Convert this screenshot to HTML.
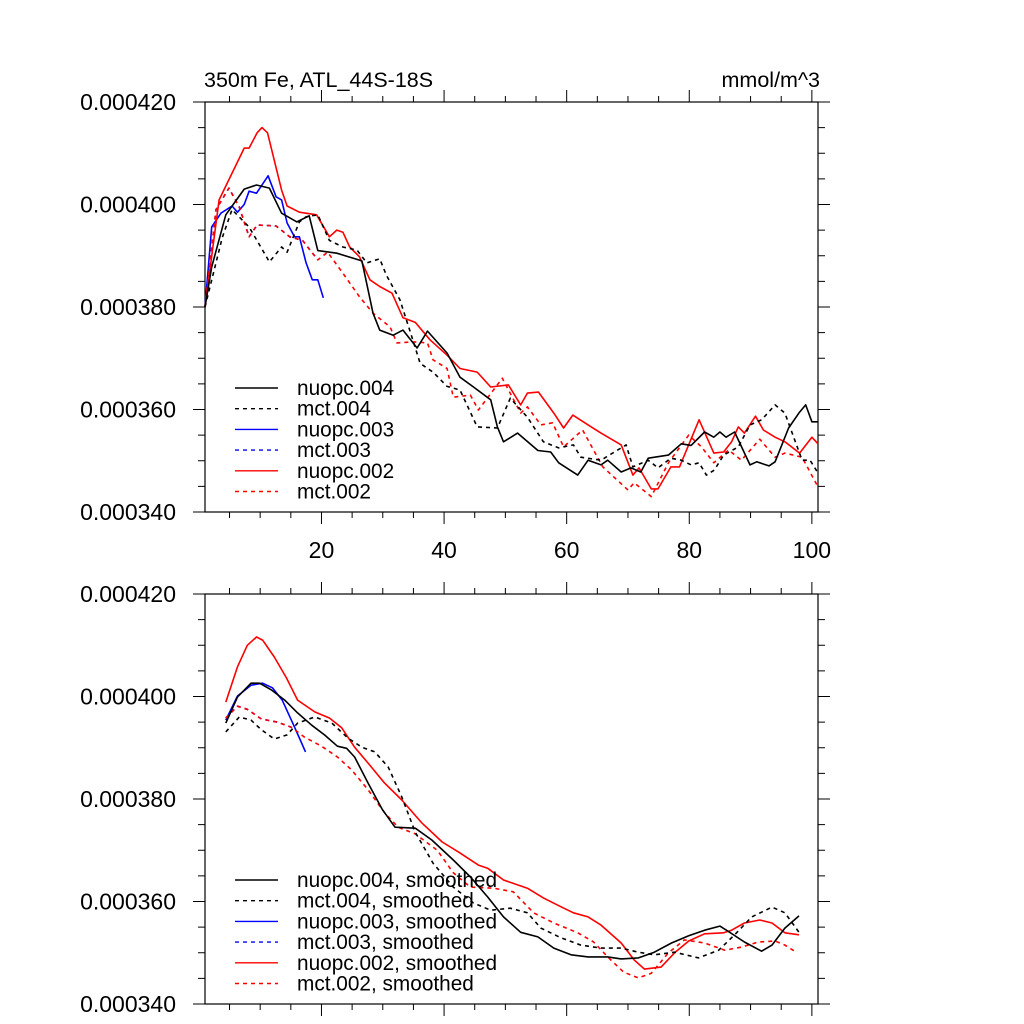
<!DOCTYPE html>
<html><head><meta charset="utf-8">
<style>
html,body{margin:0;padding:0;background:#fff;}
svg{display:block;font-family:"Liberation Sans",Arial,sans-serif;}
</style></head>
<body>
<svg id="chart" width="1024" height="1024" viewBox="0 0 1024 1024" xmlns="http://www.w3.org/2000/svg">
<text x="204" y="87" font-size="21.5">350m Fe, ATL_44S-18S</text>
<text x="820" y="87" font-size="21.5" text-anchor="end">mmol/m^3</text>
</svg>
<script>
// ----- data (values in units of 1e-6 mmol/m^3) -----
const xTickLabels = [20, 40, 60, 80, 100];
const yTickValues = [340, 360, 380, 400, 420];
const yTickLabels = ["0.000340", "0.000360", "0.000380", "0.000400", "0.000420"];

const raw_nuopc004_x = [1,2.1,4.4,7.4,9.4,11.5,13.5,16,18,19.4,22.5,26.6,28.4,29.5,31.7,33.3,35.6,37.3,40.5,42.6,44.8,47.6,48.7,49.7,52,55.3,57.4,58.7,61.8,63.5,65.6,66.7,68.9,70.5,72.1,73.3,76.6,78.7,80.3,82.5,84,85,86,87.4,89.9,91,93,94,96.2,98,99,100,101];
const raw_nuopc004_y = [380,387.8,398,403,403.8,403.2,398.3,396.6,397.8,391,390.5,389,378.8,375.5,374.5,375.5,372,375.3,371,366.3,364.4,361.9,356.6,353.7,355.4,352,351.7,349.6,347.2,350.1,349.2,350.1,347.8,348.6,347.8,350.5,351.1,353.3,353,355.6,354.6,355.6,354.6,355.6,349.2,349.8,349,349.8,356.4,359.5,360.9,357.6,357.6];

const raw_mct004_x = [1,3.8,5.4,8.2,11.5,13.5,14.4,16.4,17.5,19.4,21.3,23.5,25.8,27.4,29.5,30.6,32.8,34.4,36.1,38.2,40.5,42.6,45.4,48.7,50.8,53.6,56.2,58.7,61.1,62.3,65.6,69.7,70.8,73.3,74.9,77,78.7,80.3,81.6,82.8,84.1,85.6,88,89.9,91.8,94,95.6,98.4,99.7,101];
const raw_mct004_y = [380,393.5,399,395.6,388.8,391.7,390.7,396.6,397.6,398,393,391.7,391.1,388.6,389.4,386.2,381.4,375.5,369,367.3,364.5,363.8,356.6,356.4,362.2,358.5,353.7,352.5,353.1,350.7,350.1,353.1,348.8,350.1,348.6,350.5,350.1,349.2,349.6,347.2,348.2,351.1,352.7,357,358,360.9,359.3,350.1,350.1,347.6];

const raw_nuopc003_x = [1,2.1,3.6,5.4,6.3,7.4,8.2,9.4,11.3,12.6,13.5,14.4,15.6,16.4,17.5,18.5,19.4,20.3];
const raw_nuopc003_y = [380,395.6,398.3,399.7,398.5,400,402.6,402.2,405.6,401.5,400.9,396.4,393.7,393.7,388.6,385.3,385.3,381.8];

const raw_mct003_x = [1,2.8,4.9,6.6,8.2,9.5,12.6,14.8,16.9,19.4];
const raw_mct003_y = [380,399,403.2,399.5,393.7,396,395.8,393.7,393,389.2];

const raw_nuopc002_x = [1,3.3,7.4,8.2,9.5,10.3,11.2,13.5,14.4,16.4,19.2,21.3,22.5,23.5,24.6,26.2,27.9,29.5,31.5,33.3,35.3,37.7,40.5,42.6,45.4,47.6,50.5,52.5,53.6,55.4,57.9,59.5,61,63.5,65.6,68.9,70.8,71.8,73.8,74.9,77,78.4,81.6,84,85.6,86.9,88,89,90.8,92.1,94,95.6,98,100,101];
const raw_nuopc002_y = [380,400.9,411,411,414,415,414,402.8,399.7,398.5,398,393.7,395,394.6,391.7,389.8,385.3,384,382.7,377.9,377,373.6,370.6,368,367.3,364.4,364.8,360.9,363.2,363.4,359.3,356.4,358.9,357,355.4,353.1,347.2,348.6,344.5,344.5,348.8,348.8,358,351.5,351.7,353.7,356.6,355.4,358.7,356,354.6,353.7,351.5,354.6,353.3];

const raw_mct002_x = [1,2.8,4.9,6.6,8.2,9.5,12.6,14.8,16.9,19.4,21,23.5,26.2,28.4,31.2,32.3,35,37.3,38.2,40.5,41.5,44.3,45.6,49.5,52.5,53.6,55.8,57.7,59.5,62.6,65.9,70,71,73.8,76.6,79.9,82,84,86.4,88.5,91.5,94,95.6,98.4,101];
const raw_mct002_y = [380,399,403.2,399.5,393.7,396,395.8,393.7,393,389.2,390.7,386.6,382,378.8,376.1,373,373.2,373,369.7,368,362.4,362.8,359.9,366.1,359.3,360.5,357,357.4,352.7,356,348.8,344.3,345.7,343,349.6,355,352.7,349.6,352.1,350.1,354.2,350.7,351.5,350.7,344.9];

const sm_nuopc004_x = [4.4,6.3,8.5,9.9,11.8,14,16.1,18.4,20.5,22.6,24.1,25.4,27.6,29.9,32,35.3,38,41.5,44.3,47.1,49.7,52.5,55.3,57.9,60.7,63.5,66.7,68.9,71.7,74.3,77.1,79.9,82.5,85,86.6,89,91.8,93.5,95.6,97.9];
const sm_nuopc004_y = [394.8,399.9,402.6,402.6,401.3,399.3,396.8,394.4,392.5,390.3,389.9,388.2,383.1,378,374.5,374.3,372,368.1,364.8,360.9,357,354,353.1,350.9,349.6,349.2,349.2,348.8,349,350.1,351.9,353.3,354.4,355.2,354,352.1,350.3,351.5,354.8,357.2];

const sm_mct004_x = [4.4,6.6,8.5,10.2,12.3,14.4,16.1,18.9,21.7,24.3,26.6,28.7,30.9,33.1,35.3,38.2,41.5,44.8,47.6,50.8,53.6,55.8,59.1,62.3,65.6,68.9,71.7,74.3,77.6,81.5,84.8,87.4,90.2,93.5,95.6,97.9];
const sm_mct004_y = [393.1,396,395.4,393.5,391.7,392.5,394.8,396,394.8,391.9,390.1,389.2,386.2,380.4,373.5,367.5,362.8,359.7,358.3,358.7,357.8,354.8,352.9,351.5,350.9,350.9,350.1,349.6,350.1,349,350.5,353.5,357,358.9,357.8,354];

const sm_nuopc003_x = [4.4,6.3,8.5,10.4,12,13.6,15.3,16.4,17.4];
const sm_nuopc003_y = [395.4,400.1,402.2,402.6,401.7,399.3,394.8,391.9,389.2];

const sm_mct003_x = [4.4,6.3,7.9,10.2,12.8,15.1];
const sm_mct003_y = [395.8,398.1,397.5,395.6,395,394];

const sm_nuopc002_x = [4.4,6.3,7.9,9.4,10.4,12.3,14.3,16.1,18.9,21.3,23.3,25.4,27.6,30.3,33.1,36.4,39.7,42.3,45.6,47.1,49.7,53.6,56.2,58.5,61.1,63.5,65.6,68.9,71,72.7,75.4,77.6,79.9,82.5,85.6,86.9,89,91.5,93.5,95.6,97.9];
const sm_nuopc002_y = [398.9,405.8,410,411.6,411,407.7,403.6,399.3,397,395.8,393.9,390.1,387,383.1,379.8,375.3,371.6,369.7,367.1,366.5,364.2,362.6,360.7,359.3,357.8,357,355.4,351.9,348.6,346.8,347.2,350,352.3,353.7,353.9,354.4,355.8,356.4,355.8,353.9,353.5];

const sm_mct002_x = [4.4,6.3,7.9,10.2,12.8,15.1,17.2,20,22.6,24.9,27.6,30.3,32.5,35.3,38.9,41.5,44.3,48.1,51.3,54.6,57.9,61.8,64.4,66.7,69.3,71.7,73.8,76.6,79.2,82.5,85.8,88.5,91.3,94,95.6,97.6];
const sm_mct002_y = [395.8,398.1,397.5,395.6,395,394,392.1,390.3,388.2,385.7,381.8,377.3,374.5,373.2,370,365.6,362.8,362.6,361.9,357.8,355.8,353.9,352.1,349.2,346.2,345.1,346,350,352.5,351.9,350.5,351.1,352.1,352.3,351.5,350];

const legendTop = ["nuopc.004","mct.004","nuopc.003","mct.003","nuopc.002","mct.002"];
const legendBottom = ["nuopc.004, smoothed","mct.004, smoothed","nuopc.003, smoothed","mct.003, smoothed","nuopc.002, smoothed","mct.002, smoothed"];

// ----- drawing -----
const NS = "http://www.w3.org/2000/svg";
const svg = document.getElementById("chart");
const X0 = 205, X1 = 818, XMIN = 1, XMAX = 101;
const YMIN = 340, YMAX = 420;
function xs(v){ return X0 + (v - XMIN) * (X1 - X0) / (XMAX - XMIN); }
function mkY(top, bot){ return v => bot - (v - YMIN) * (bot - top) / (YMAX - YMIN); }
function el(tag, attrs){ const e = document.createElementNS(NS, tag); for (const k in attrs) e.setAttribute(k, attrs[k]); svg.appendChild(e); return e; }

const styles = [
  {c:"#000", d:""},{c:"#000", d:"4,4"},{c:"#0000ff", d:""},{c:"#0000ff", d:"4,4"},{c:"#ff0000", d:""},{c:"#ff0000", d:"4,4"}
];

function drawPanel(top, bot, name, showXLabels, series, names, legendY){
  const ys = mkY(top, bot);
  const f = el("rect", {x:X0, y:top, width:X1-X0, height:bot-top, fill:"none", stroke:"#000", "stroke-width":1.2});
  
  
  for (let t = 5; t <= 100; t += 5){
    const x = xs(t), major = t % 20 === 0, L = major ? 12 : 6;
    const a = el("line", {x1:x, x2:x, y1:bot, y2:bot+L, stroke:"#000", "stroke-width":1});
    
    
    const b = el("line", {x1:x, x2:x, y1:top, y2:top-L, stroke:"#000", "stroke-width":1});
    
    
  }
  if (showXLabels){
    xTickLabels.forEach(t => {
      const tx = el("text", {x:xs(t), y:bot+46, "font-size":23, "text-anchor":"middle"});
      tx.textContent = t;
      
      
    });
  }
  for (let v = YMIN; v <= YMAX; v += 5){
    const y = ys(v), major = v % 20 === 0, L = major ? 12 : 7;
    const a = el("line", {x1:X0, x2:X0-L, y1:y, y2:y, stroke:"#000", "stroke-width":1});
    
    
    const b = el("line", {x1:X1, x2:X1+L, y1:y, y2:y, stroke:"#000", "stroke-width":1});
    
    
  }
  yTickValues.forEach((v, i) => {
    const tx = el("text", {x:176, y:ys(v)+8, "font-size":23, "text-anchor":"end"});
    tx.textContent = yTickLabels[i];
    
    
  });
  const order = [3,2,5,4,1,0];
  order.forEach(i => {
    const s = series[i];
    if (!s) return;
    const pts = s[0].map((xv, k) => xs(xv).toFixed(1) + "," + ys(s[1][k]).toFixed(1)).join(" ");
    const p = el("polyline", {points:pts, fill:"none", stroke:styles[i].c, "stroke-width":1.6, "stroke-dasharray":styles[i].d, "stroke-linejoin":"round"});
    
    
  });
  names.forEach((n, i) => {
    const y = legendY + i * 20.7;
    const l = el("line", {x1:235, x2:278, y1:y, y2:y, stroke:styles[i].c, "stroke-width":1.4, "stroke-dasharray":styles[i].d});
    
    
    const t = el("text", {x:297, y:y+7, "font-size":20.8});
    t.textContent = n;
    
    
  });
}

drawPanel(102, 512, "top-panel", true,
  [[raw_nuopc004_x, raw_nuopc004_y],[raw_mct004_x, raw_mct004_y],[raw_nuopc003_x, raw_nuopc003_y],[raw_mct003_x, raw_mct003_y],[raw_nuopc002_x, raw_nuopc002_y],[raw_mct002_x, raw_mct002_y]],
  legendTop, 388);
drawPanel(594, 1004, "bottom-panel", false,
  [[sm_nuopc004_x, sm_nuopc004_y],[sm_mct004_x, sm_mct004_y],[sm_nuopc003_x, sm_nuopc003_y],[sm_mct003_x, sm_mct003_y],[sm_nuopc002_x, sm_nuopc002_y],[sm_mct002_x, sm_mct002_y]],
  legendBottom, 880);
</script>
</body></html>
